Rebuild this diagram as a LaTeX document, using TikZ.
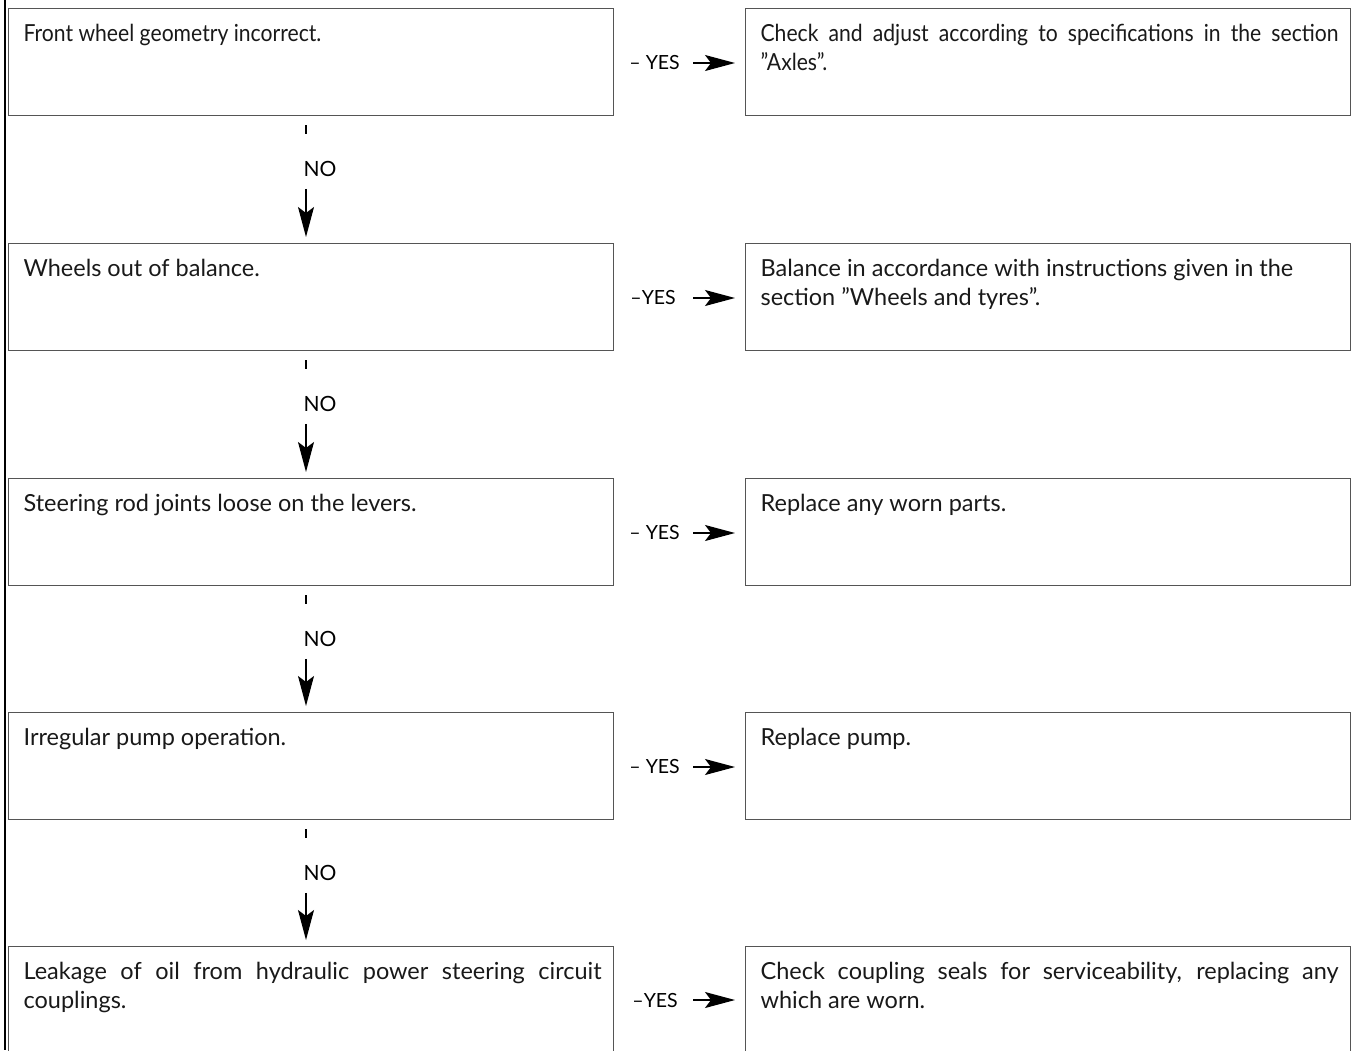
\documentclass[tikz,border=0pt]{standalone}
\usepackage{fontspec}
\setmainfont{Lato}
\usetikzlibrary{arrows.meta}
\definecolor{boxgray}{RGB}{85,85,85}
\definecolor{ink}{RGB}{25,25,25}
\tikzstyle{qbox}=[draw=boxgray, line width=1.2pt, anchor=north west, inner xsep=12pt, inner ysep=16pt, text=ink, font=\fontsize{23.5}{29}\selectfont]
\tikzstyle{lbl}=[inner sep=0pt, font=\fontsize{19.5}{19.5}\selectfont]
\tikzstyle{nolbl}=[inner sep=0pt, font=\fontsize{21}{21}\selectfont]
\tikzstyle{edge}=[draw, line width=1.2pt, -]
\tikzstyle{dedge}=[draw, line width=1.2pt, -{Stealth[length=30pt,width=16pt,inset=6pt]}]
% fixed-size text area of a box, text set from the top
\newcommand{\boxtext}[1]{\hspace*{3pt}\parbox[c][75pt][t]{578pt}{\hyphenpenalty=10000 \tolerance=9999 #1}}
% narrower letters for the first pair of boxes
\newcommand{\narrow}{\addfontfeature{FakeStretch=0.9}}

\begin{document}
\begin{tikzpicture}[x=1pt,y=-1pt]
    \useasboundingbox (0,0) rectangle (1354,1050);
    \clip (0,0) rectangle (1354,1050);

    \draw[line width=2pt] (5,0) -- (5,1050);

    % questions on the left, remedies on the right
    \node[qbox] (q1) at (8,8)   {\boxtext{\narrow Front wheel geometry incorrect.}};
    \node[qbox] (q2) at (8,243) {\boxtext{Wheels out of balance.}};
    \node[qbox] (q3) at (8,478) {\boxtext{Steering rod joints loose on the levers.}};
    \node[qbox] (q4) at (8,712) {\boxtext{Irregular pump operation.}};
    \node[qbox] (q5) at (8,946) {\boxtext{Leakage of oil from hydraulic power steering circuit\linebreak couplings.}};

    \node[qbox] (a1) at (745,8)   {\boxtext{\narrow Check and adjust according to specifications in the section\linebreak ''Axles''.}};
    \node[qbox] (a2) at (745,243) {\boxtext{Balance in accordance with instructions given in the\\ section ''Wheels and tyres''.}};
    \node[qbox] (a3) at (745,478) {\boxtext{Replace any worn parts.}};
    \node[qbox] (a4) at (745,712) {\boxtext{Replace pump.}};
    \node[qbox] (a5) at (745,946) {\boxtext{Check coupling seals for serviceability, replacing any\linebreak which are worn.}};

    % yes branches
    \node[lbl,anchor=east] (y1) at (680,63)   {-- YES};
    \node[lbl,anchor=east] (y2) at (676,298)  {--YES};
    \node[lbl,anchor=east] (y3) at (680,533)  {-- YES};
    \node[lbl,anchor=east] (y4) at (680,767)  {-- YES};
    \node[lbl,anchor=east] (y5) at (678,1000) {--YES};

    \path[dedge] ([xshift=13pt]y1.east) -- ([xshift=-10pt]a1.west |- y1.east);
    \path[dedge] ([xshift=17pt]y2.east) -- ([xshift=-10pt]a2.west |- y2.east);
    \path[dedge] ([xshift=13pt]y3.east) -- ([xshift=-10pt]a3.west |- y3.east);
    \path[dedge] ([xshift=13pt]y4.east) -- ([xshift=-10pt]a4.west |- y4.east);
    \path[dedge] ([xshift=15pt]y5.east) -- ([xshift=-10pt]a5.west |- y5.east);

    % no branches
    \coordinate (col) at (306,0);
    \node[nolbl] (n1) at (320,169) {NO};
    \node[nolbl] (n2) at (320,404) {NO};
    \node[nolbl] (n3) at (320,639) {NO};
    \node[nolbl] (n4) at (320,873) {NO};

    \path[edge] ([yshift=-9pt]q1.south -| col) -- ([yshift=-18pt]q1.south -| col);
    \path[edge] ([yshift=-9pt]q2.south -| col) -- ([yshift=-18pt]q2.south -| col);
    \path[edge] ([yshift=-9pt]q3.south -| col) -- ([yshift=-18pt]q3.south -| col);
    \path[edge] ([yshift=-9pt]q4.south -| col) -- ([yshift=-18pt]q4.south -| col);

    \path[dedge] ([yshift=-12pt]n1.south -| col) -- ([yshift=6pt]q2.north -| col);
    \path[dedge] ([yshift=-12pt]n2.south -| col) -- ([yshift=6pt]q3.north -| col);
    \path[dedge] ([yshift=-12pt]n3.south -| col) -- ([yshift=6pt]q4.north -| col);
    \path[dedge] ([yshift=-12pt]n4.south -| col) -- ([yshift=6pt]q5.north -| col);
\end{tikzpicture}
\end{document}
